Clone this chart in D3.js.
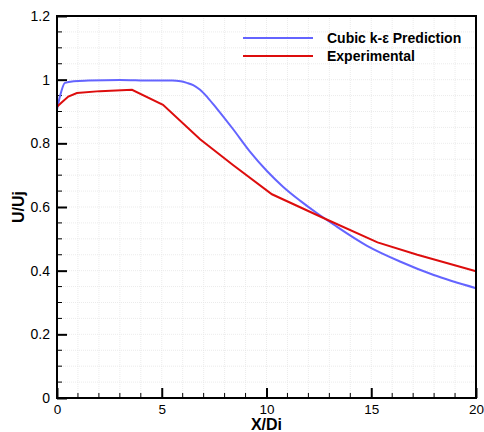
<!DOCTYPE html>
<html><head><meta charset="utf-8">
<script src="https://cdn.jsdelivr.net/npm/d3@7"></script>
<style>body{margin:0;background:#fff}svg{display:block;font-family:"Liberation Sans",Arial,sans-serif}</style>
</head><body><svg id="c" width="484" height="432"></svg>
<script>
const seriesNames = ["Cubic k-\u03b5 Prediction", "Experimental"];
const predX = [0, 0.15, 0.38, 0.8, 1.5, 3, 4.5, 5.5, 5.9, 6.2, 6.5, 6.83, 7.2, 7.62, 8.4, 9.21, 10.02, 10.8, 11.6, 12.4, 13.2, 14.8, 16.4, 17.95, 20];
const predY = [0.906, 0.95, 0.99, 0.995, 0.997, 0.999, 0.997, 0.997, 0.995, 0.99, 0.983, 0.968, 0.943, 0.91, 0.845, 0.774, 0.713, 0.663, 0.62, 0.581, 0.545, 0.478, 0.428, 0.387, 0.345];
const expX = [0, 0.22, 0.54, 0.95, 2.05, 3.58, 5.06, 6.83, 8.4, 10.26, 12.9, 15.3, 17.2, 20];
const expY = [0.915, 0.928, 0.947, 0.958, 0.964, 0.968, 0.921, 0.813, 0.732, 0.64, 0.56, 0.489, 0.45, 0.398];
const xTicks = [0, 5, 10, 15, 20];
const yTicks = [0, 0.2, 0.4, 0.6, 0.8, 1, 1.2];
const colors = ["#6464ff", "#dd0d0d"];

const svg = d3.select("#c");
const L = 57, R = 476, T = 16, B = 398;
const x = d3.scaleLinear().domain([0, 20]).range([L, R]);
const y = d3.scaleLinear().domain([0, 1.2]).range([B, T]);

// grid
const g = svg.append("g");
g.selectAll(".gx").data(d3.range(1, 20)).join("line")
  .attr("x1", d => x(d)).attr("x2", d => x(d)).attr("y1", T).attr("y2", B)
  .attr("stroke", "#e6e6e6").attr("stroke-width", 0.8).attr("stroke-dasharray", "1,1");
g.selectAll(".gy").data(d3.range(1, 24).map(i => i * 0.05)).join("line")
  .attr("y1", d => y(d)).attr("y2", d => y(d)).attr("x1", L).attr("x2", R)
  .attr("stroke", "#e6e6e6").attr("stroke-width", 0.8).attr("stroke-dasharray", "1,1");

// minor ticks (inward)
const minX = d3.range(1, 20).filter(v => v % 5 !== 0);
svg.append("g").selectAll("line").data(minX).join("line")
  .attr("x1", d => x(d)).attr("x2", d => x(d)).attr("y1", B).attr("y2", B - 5)
  .attr("stroke", "#000").attr("stroke-width", 1);
const minY = d3.range(1, 24).map(i => +(i * 0.05).toFixed(2)).filter((v, i) => (i + 1) % 4 !== 0);
svg.append("g").selectAll("line").data(minY).join("line")
  .attr("y1", d => y(d)).attr("y2", d => y(d)).attr("x1", L).attr("x2", L + 5)
  .attr("stroke", "#000").attr("stroke-width", 1);

// major axes
const xAxis = d3.axisBottom(x).tickValues(xTicks).tickSize(-10).tickPadding(6).tickFormat(d3.format("d"));
const yAxis = d3.axisLeft(y).tickValues(yTicks).tickSize(-10).tickPadding(7).tickFormat(d => d === 0 ? "0" : d3.format("")(d));
const gx = svg.append("g").attr("transform", `translate(0,${B})`).call(xAxis);
const gy = svg.append("g").attr("transform", `translate(${L},0)`).call(yAxis);
[gx, gy].forEach(a => {
  a.select(".domain").remove();
  a.selectAll(".tick line").attr("stroke", "#000").attr("stroke-width", 2);
  a.selectAll(".tick text").attr("fill", "#000").attr("font-family", "Liberation Sans, Arial, sans-serif");
});
gx.selectAll(".tick text").attr("font-size", 13.5);
gy.selectAll(".tick text").attr("font-size", 14);

// lines
const line = d3.line().x(d => x(d[0])).y(d => y(d[1])).curve(d3.curveLinear);
const predLine = d3.line().x(d => x(d[0])).y(d => y(d[1])).curve(d3.curveMonotoneX);
svg.append("path").datum(predX.map((v, i) => [v, predY[i]])).attr("d", predLine)
  .attr("fill", "none").attr("stroke", colors[0]).attr("stroke-width", 2);
svg.append("path").datum(expX.map((v, i) => [v, expY[i]])).attr("d", line)
  .attr("fill", "none").attr("stroke", colors[1]).attr("stroke-width", 2);

// frame
svg.append("rect").attr("x", L).attr("y", T).attr("width", R - L).attr("height", B - T)
  .attr("fill", "none").attr("stroke", "#000").attr("stroke-width", 2);

// legend
const lg = svg.append("g");
seriesNames.forEach((n, i) => {
  const yy = 38 + i * 18;
  lg.append("line").attr("x1", 243).attr("x2", 313).attr("y1", yy).attr("y2", yy)
    .attr("stroke", colors[i]).attr("stroke-width", 2);
  lg.append("text").attr("x", 327).attr("y", yy + 5).attr("font-size", 14).attr("font-weight", "bold").text(n);
});

// axis titles
svg.append("text").attr("x", x(10)).attr("y", 430).attr("text-anchor", "middle")
  .attr("font-size", 16).attr("font-weight", "bold").text("X/Di");
svg.append("text").attr("transform", `translate(24,${y(0.6)}) rotate(-90)`).attr("text-anchor", "middle")
  .attr("font-size", 16).attr("font-weight", "bold").text("U/Uj");
</script></body></html>
